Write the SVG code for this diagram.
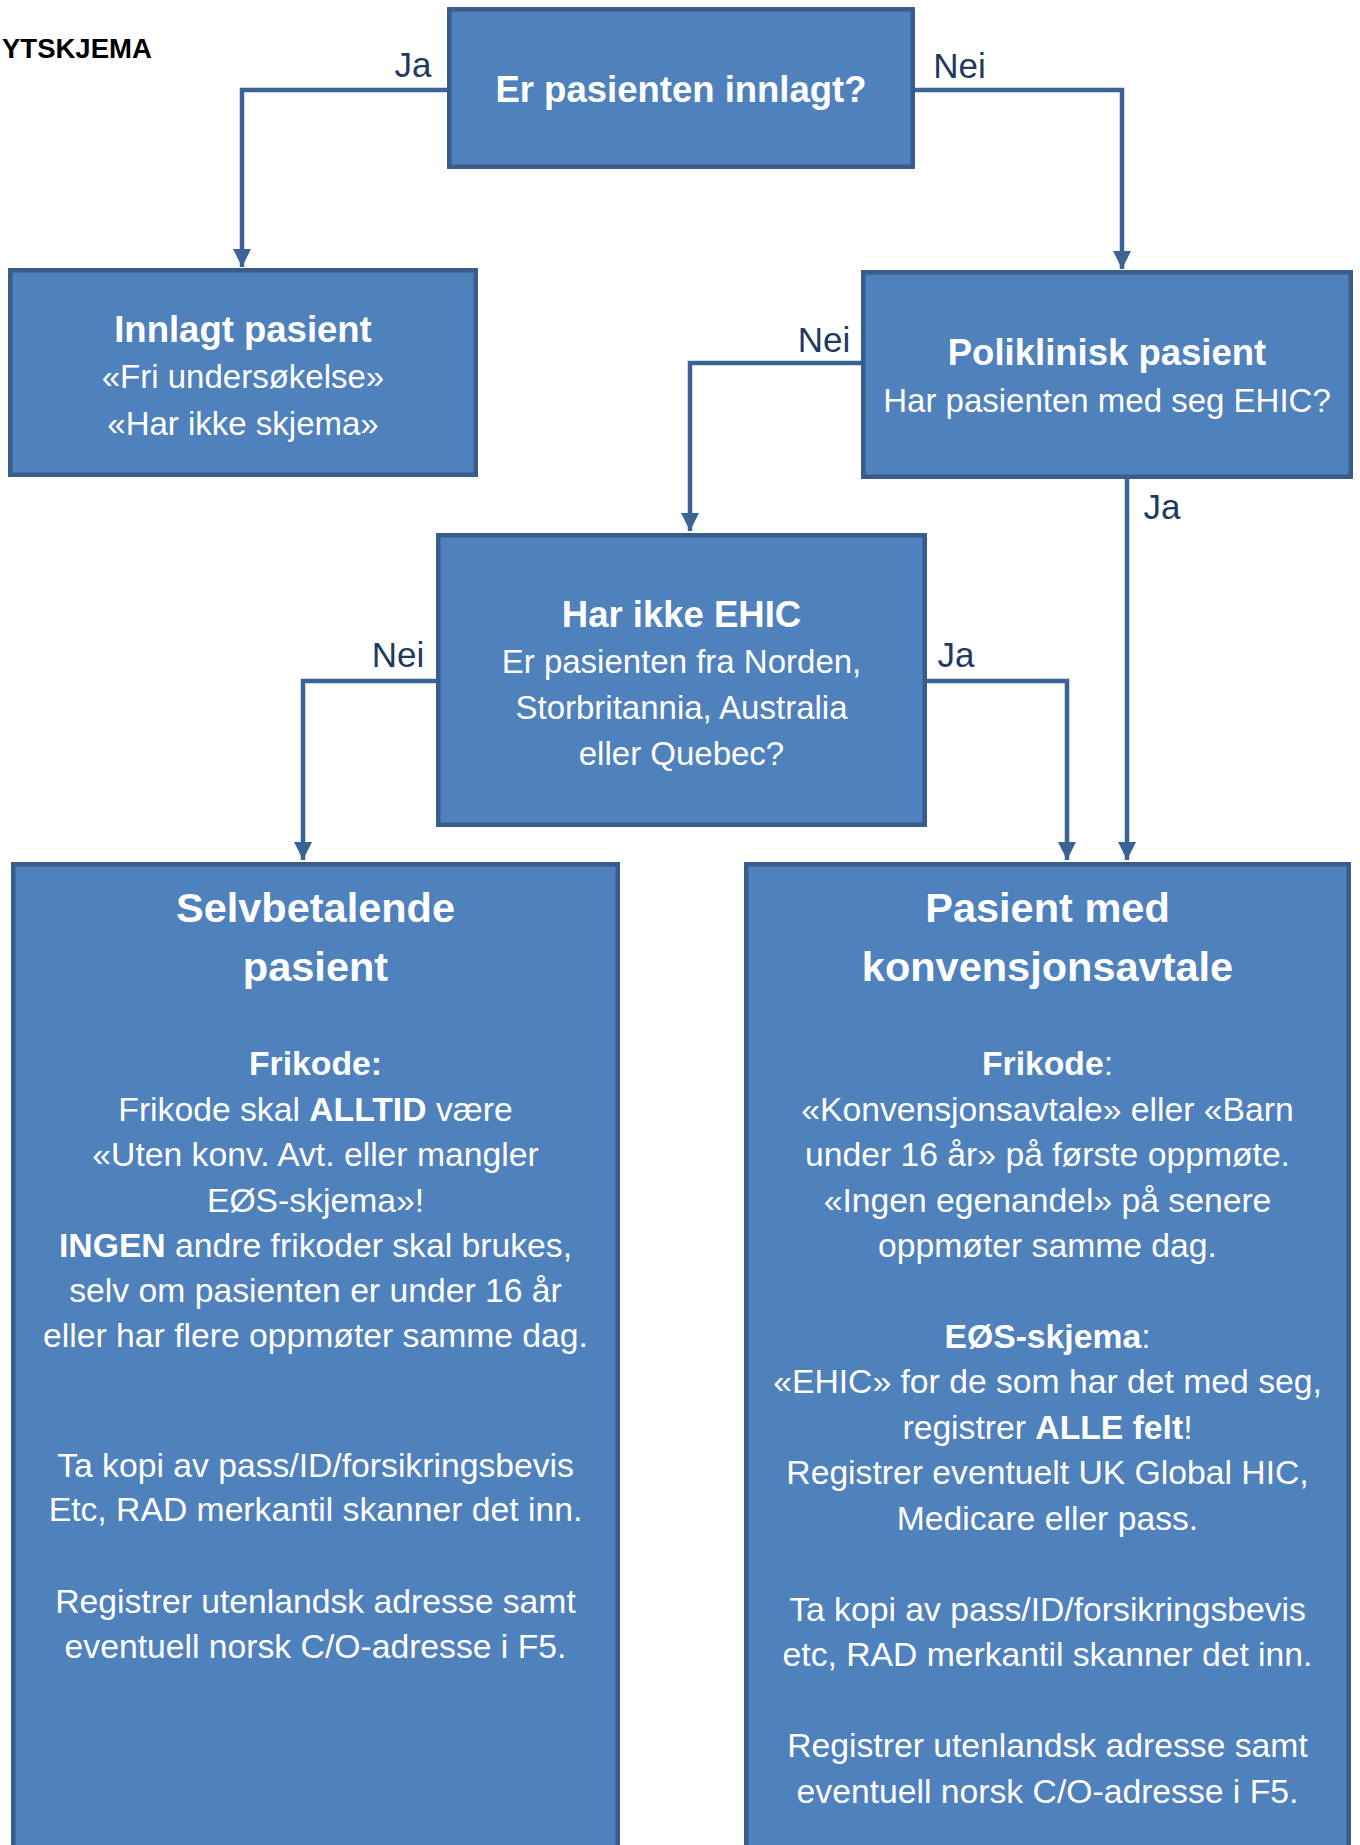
<svg xmlns="http://www.w3.org/2000/svg" width="1360" height="1845" viewBox="0 0 1360 1845">
<defs>
<style>
.box{fill:#4F81BD;stroke:#385D8A;stroke-width:4.5}
.t{font-family:"Liberation Sans",Arial,sans-serif;fill:#FFFFFF;text-anchor:middle}
.h{font-weight:bold;font-size:36.5px}
.hb{font-weight:bold;font-size:41.5px}
.b{font-size:33px}
.bb{font-size:33.7px}
.bold{font-weight:bold}
.lbl{font-family:"Liberation Sans",Arial,sans-serif;fill:#1F3A5F;font-size:35px;text-anchor:middle}
.con{fill:none;stroke:#3B6396;stroke-width:4.5;marker-end:url(#arr)}
</style>
<marker id="arr" markerUnits="userSpaceOnUse" markerWidth="18" markerHeight="18" refX="17" refY="8.5" orient="auto" viewBox="0 0 17 17">
<path d="M0,0 L17,8.5 L0,17 z" fill="#3B6396"/>
</marker>
</defs>
<rect width="1360" height="1845" fill="#FFFFFF"/>
<text x="2" y="58" font-family="Liberation Sans,Arial,sans-serif" font-weight="bold" font-size="27.5" fill="#000000" text-anchor="start">YTSKJEMA</text>

<g id="connectors">
<path class="con" d="M447,90 H242 V267"/>
<path class="con" d="M915,90 H1122 V269"/>
<path class="con" d="M861,363 H690 V531"/>
<path class="con" d="M1127,479 V860"/>
<path class="con" d="M436,681 H303 V860"/>
<path class="con" d="M927,681 H1067 V860"/>
<text class="lbl" x="413" y="77">Ja</text>
<text class="lbl" x="959.5" y="78">Nei</text>
<text class="lbl" x="824" y="352">Nei</text>
<text class="lbl" x="1162" y="519">Ja</text>
<text class="lbl" x="398" y="667">Nei</text>
<text class="lbl" x="956" y="667">Ja</text>
</g>

<g id="node-innlagt-sporsmal">
<rect class="box" x="449.25" y="9.25" width="463.5" height="157.5"/>
<text class="t h" x="681" y="102">Er pasienten innlagt?</text>
</g>

<g id="node-innlagt-pasient">
<rect class="box" x="10.25" y="270.25" width="465.5" height="204.5"/>
<text class="t h" x="243" y="342">Innlagt pasient</text>
<text class="t b" x="243" y="388">«Fri undersøkelse»</text>
<text class="t b" x="243" y="435">«Har ikke skjema»</text>
</g>

<g id="node-poliklinisk">
<rect class="box" x="863.25" y="272.25" width="487.5" height="204.5"/>
<text class="t h" x="1107" y="365">Poliklinisk pasient</text>
<text class="t b" x="1107" y="412">Har pasienten med seg EHIC?</text>
</g>

<g id="node-har-ikke-ehic">
<rect class="box" x="438.25" y="535.25" width="486.5" height="289.5"/>
<text class="t h" x="681.5" y="627">Har ikke EHIC</text>
<text class="t b" x="681.5" y="673">Er pasienten fra Norden,</text>
<text class="t b" x="681.5" y="719">Storbritannia, Australia</text>
<text class="t b" x="681.5" y="765">eller Quebec?</text>
</g>

<g id="node-selvbetalende">
<rect class="box" x="13.25" y="864.25" width="604.5" height="1000"/>
<text class="t hb" x="315.5" y="922">Selvbetalende</text>
<text class="t hb" x="315.5" y="981">pasient</text>
<text class="t bb bold" x="315.5" y="1075">Frikode:</text>
<text class="t bb" x="315.5" y="1121">Frikode skal <tspan class="bold">ALLTID</tspan> være</text>
<text class="t bb" x="315.5" y="1166">«Uten konv. Avt. eller mangler</text>
<text class="t bb" x="315.5" y="1212">EØS-skjema»!</text>
<text class="t bb" x="315.5" y="1257"><tspan class="bold">INGEN</tspan> andre frikoder skal brukes,</text>
<text class="t bb" x="315.5" y="1302">selv om pasienten er under 16 år</text>
<text class="t bb" x="315.5" y="1347">eller har flere oppmøter samme dag.</text>
<text class="t bb" x="315.5" y="1477">Ta kopi av pass/ID/forsikringsbevis</text>
<text class="t bb" x="315.5" y="1521">Etc, RAD merkantil skanner det inn.</text>
<text class="t bb" x="315.5" y="1613">Registrer utenlandsk adresse samt</text>
<text class="t bb" x="315.5" y="1658">eventuell norsk C/O-adresse i F5.</text>
</g>

<g id="node-konvensjonsavtale">
<rect class="box" x="746.25" y="864.25" width="602.5" height="1000"/>
<text class="t hb" x="1047.5" y="922">Pasient med</text>
<text class="t hb" x="1047.5" y="981">konvensjonsavtale</text>
<text class="t bb" x="1047.5" y="1075"><tspan class="bold">Frikode</tspan>:</text>
<text class="t bb" x="1047.5" y="1121">«Konvensjonsavtale» eller «Barn</text>
<text class="t bb" x="1047.5" y="1166">under 16 år» på første oppmøte.</text>
<text class="t bb" x="1047.5" y="1212">«Ingen egenandel» på senere</text>
<text class="t bb" x="1047.5" y="1257">oppmøter samme dag.</text>
<text class="t bb" x="1047.5" y="1348"><tspan class="bold">EØS-skjema</tspan>:</text>
<text class="t bb" x="1047.5" y="1393">«EHIC» for de som har det med seg,</text>
<text class="t bb" x="1047.5" y="1439">registrer <tspan class="bold">ALLE felt</tspan>!</text>
<text class="t bb" x="1047.5" y="1484">Registrer eventuelt UK Global HIC,</text>
<text class="t bb" x="1047.5" y="1530">Medicare eller pass.</text>
<text class="t bb" x="1047.5" y="1621">Ta kopi av pass/ID/forsikringsbevis</text>
<text class="t bb" x="1047.5" y="1666">etc, RAD merkantil skanner det inn.</text>
<text class="t bb" x="1047.5" y="1757">Registrer utenlandsk adresse samt</text>
<text class="t bb" x="1047.5" y="1803">eventuell norsk C/O-adresse i F5.</text>
</g>
</svg>
